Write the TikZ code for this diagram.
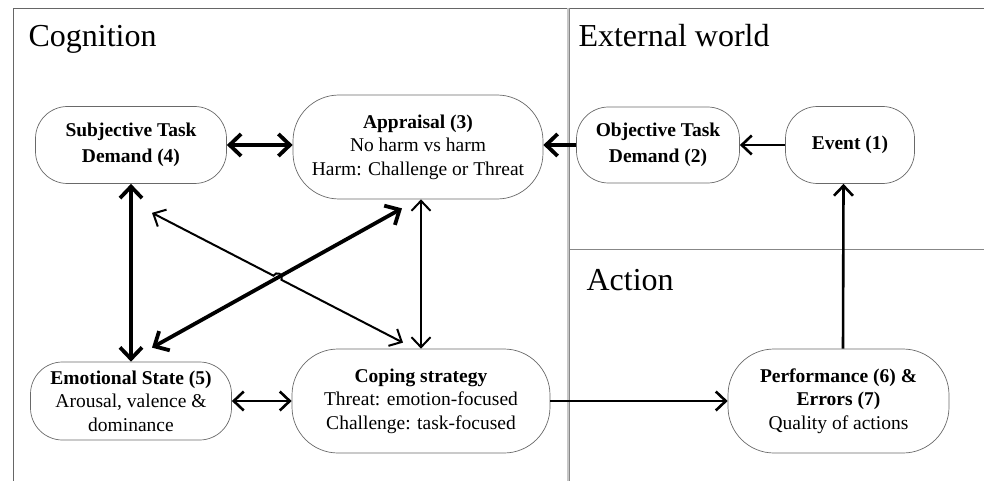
\documentclass[tikz,border=0pt]{standalone}
\usepackage{fontspec}
\setmainfont{Liberation Serif}
\usetikzlibrary{arrows.meta,calc}
\definecolor{frameGray}{RGB}{135,135,135}
\definecolor{boxGray}{RGB}{105,105,105}
\tikzset{stpanel/.style={
  x=1pt, y=1pt,
  >={Straight Barb[length=10pt,width=19pt]},
  pill/.style={draw=boxGray, line width=0.7pt, align=center, inner sep=0pt, font=\fontsize{19.5}{23.5}\selectfont},
  region/.style={anchor=base west, font=\fontsize{32}{38}\selectfont},
  frame/.style={draw=frameGray, line width=0.9pt},
  heavy/.style={line width=3.8pt, >={Straight Barb[length=11.5pt,width=22pt]}},
  mid/.style={line width=2.6pt},
  light/.style={line width=2pt},
}}

\begin{document}
\begin{tikzpicture}[stpanel]
\useasboundingbox (0,0) rectangle (984,-481);

% =====================================================================
% frame and regions
% =====================================================================
\draw[frame, draw=black!60] (13,-481) -- (13,-8) -- (984,-8);
\draw[line width=3pt, draw=black!22] (568,-8) -- (568,-481);
\draw[frame] (569.5,-8) -- (569.5,-481);
\draw[frame] (569.5,-249) -- (984,-249);
\node[region] (cog) at (25,-47) {Cognition};
\node[region] (ext) at (575,-47) {External world};
\node[region] (act) at (583,-290) {Action};

% =====================================================================
% top row: demands, appraisal, event
% =====================================================================
\node[pill, minimum width=191pt, minimum height=77pt, rounded corners=32pt] (subj) at (131,-145)
  {\textbf{Subjective Task}\\[2pt]\textbf{Demand (4)}};
\node[pill, minimum width=250pt, minimum height=104pt, rounded corners=46pt] (appr) at (418,-147)
  {\textbf{Appraisal (3)}\\No harm vs harm\\Harm: Challenge or Threat};
\node[pill, minimum width=163pt, minimum height=76pt, rounded corners=32pt] (obj) at (658,-145)
  {\textbf{Objective Task}\\[2pt]\textbf{Demand (2)}};
\node[pill, minimum width=129pt, minimum height=77pt, rounded corners=32pt] (event) at (850,-145)
  {\textbf{Event (1)}};

% =====================================================================
% bottom row: emotion, coping, performance
% =====================================================================
\node[pill, minimum width=201pt, minimum height=78pt, rounded corners=32pt] (emo) at (131,-401)
  {\textbf{Emotional State (5)}\\Arousal, valence \&\\dominance};
\node[pill, minimum width=258pt, minimum height=104pt, rounded corners=46pt] (cope) at (421,-401)
  {\textbf{Coping strategy}\\Threat: emotion-focused\\Challenge: task-focused};
\node[pill, minimum width=221pt, minimum height=104pt, rounded corners=46pt] (perf) at (838.5,-401)
  {\textbf{Performance (6) \&}\\\textbf{Errors (7)}\\Quality of actions};

% =====================================================================
% connectors
% =====================================================================
\draw[->, mid] (event.west) -- (obj.east);
\draw[->, heavy] (obj.west) -- (appr.east |- obj.west);
\draw[<->, heavy] (subj.east) -- (appr.west |- subj.east);
\draw[<->, heavy] (subj.south) -- (emo.north);
\draw[<->, light] (appr.south -| cope.north) -- (cope.north);
\draw[<->, mid] (emo.east) -- (cope.west);
\draw[->, mid] (cope.east) -- (perf.west);
\draw[->, mid] ([xshift=4.5pt]perf.north) -- ([xshift=-6.5pt]event.south);

% crossing diagonals (thin one hops over the thick one)
\coordinate (thinA) at ([shift={(21pt,-29pt)}]subj.south);
\coordinate (thinB) at ([shift={(-18pt,6pt)}]cope.north);
\coordinate (thickA) at ([shift={(21pt,14pt)}]emo.north);
\coordinate (thickB) at ([shift={(-16pt,-9pt)}]appr.south);
\coordinate (hop) at (intersection of thinA--thinB and thickA--thickB);
\coordinate (hopIn) at ($(hop)!4.5pt!(thinA)$);
\draw[<->, light] (thinA) -- (hopIn) arc[start angle=152.4, end angle=-27.6, radius=4.5pt] -- (thinB);
\draw[<->, heavy] (thickA) -- (thickB);

\end{tikzpicture}
\end{document}
